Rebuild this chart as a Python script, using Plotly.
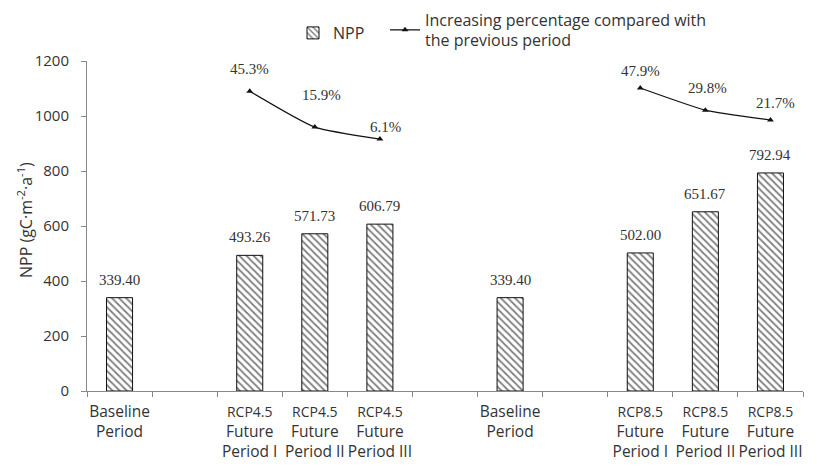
import plotly.graph_objects as go

# ---- data ----
tick_labels = [
    "Baseline<br>Period",
    "",
    "<span style='font-size:14px'>RCP4.5</span><br>Future<br>Period I",
    "<span style='font-size:14px'>RCP4.5</span><br>Future<br>Period II",
    "<span style='font-size:14px'>RCP4.5</span><br>Future<br>Period III",
    "",
    "Baseline<br>Period",
    "",
    "<span style='font-size:14px'>RCP8.5</span><br>Future<br>Period I",
    "<span style='font-size:14px'>RCP8.5</span><br>Future<br>Period II",
    "<span style='font-size:14px'>RCP8.5</span><br>Future<br>Period III",
]
npp_values = [339.40, None, 493.26, 571.73, 606.79, None, 339.40, None, 502.00, 651.67, 792.94]
pct_values = [None, None, 45.3, 15.9, 6.1, None, None, None, 47.9, 29.8, 21.7]
y_ticks = [0, 200, 400, 600, 800, 1000, 1200]
y_title = "NPP (gC·m<sup>-2</sup>·a<sup>-1</sup>)"

# ---- styles ----
pct_label_shift = [None, None, (0, 22), (7, 32), (6, 12), None, None, None, (0, 17), (2, 22), (5, 17)]
x = list(range(len(tick_labels)))
label_x = [xi for xi, t in zip(x, tick_labels) if t]
label_t = [t for t in tick_labels if t]
boundaries = [xi - 0.5 for xi in x] + [x[-1] + 0.5]
sans = "Open Sans"
serif = "Liberation Serif"
txt_col = "#333333"
axis_col = "#888888"

fig = go.Figure()
fig.add_trace(go.Bar(
    x=x, y=npp_values, name="NPP", width=0.4,
    marker=dict(color="white", line=dict(color="#111111", width=1),
                pattern=dict(shape="\\", fgcolor="#000000", bgcolor="white", size=5, solidity=0.35)),
    yaxis="y", legend="legend",
))
fig.add_trace(go.Scatter(
    x=x, y=pct_values, name="Increasing percentage compared with<br>the previous period",
    mode="lines+markers", line=dict(color="#111111", width=1.2, shape="spline", smoothing=0.5),
    marker=dict(symbol="triangle-up", size=6, color="#111111"),
    connectgaps=False, yaxis="y2", legend="legend2",
))

annotations = []
for xi, v in zip(x, npp_values):
    if v is None:
        continue
    annotations.append(dict(x=xi, y=v, xref="x", yref="y", text=f"{v:.2f}", showarrow=False,
                            yanchor="middle", yshift=18,
                            font=dict(family=serif, size=15, color=txt_col)))
for xi, p, s in zip(x, pct_values, pct_label_shift):
    if p is None:
        continue
    annotations.append(dict(x=xi, y=p, xref="x", yref="y2", text=f"{p:.1f}%", showarrow=False,
                            yanchor="middle", xshift=s[0], yshift=s[1],
                            font=dict(family=serif, size=15, color=txt_col)))
annotations.append(dict(x=(25 - 87) / 716, y=(391 - 220) / 330, xref="paper", yref="paper",
                        text=y_title, textangle=-90, showarrow=False,
                        xanchor="center", yanchor="middle",
                        font=dict(family=sans, size=16, color=txt_col)))

legend_font = dict(family=sans, size=16, color=txt_col)
fig.update_layout(
    width=817, height=466,
    margin=dict(l=87, r=14, t=61, b=75),
    paper_bgcolor="white", plot_bgcolor="white",
    font=dict(family=sans, size=15, color=txt_col),
    showlegend=True,
    legend=dict(orientation="h", xref="container", yref="container", x=293 / 817, xanchor="left",
                y=1 - 33 / 466, yanchor="middle", font=legend_font, bgcolor="rgba(0,0,0,0)"),
    legend2=dict(orientation="h", xref="container", yref="container", x=385 / 817, xanchor="left",
                 y=1 - 30 / 466, yanchor="middle", font=legend_font, bgcolor="rgba(0,0,0,0)"),
    xaxis=dict(range=[-0.5, len(x) - 0.5], tickmode="array", tickvals=label_x, ticktext=label_t,
               ticks="outside", ticklen=6, tickcolor="rgba(0,0,0,0)",
               minor=dict(tickmode="array", tickvals=boundaries, ticks="outside", ticklen=5,
                          tickcolor=axis_col, showgrid=False),
               showline=True, linecolor=axis_col, linewidth=1, showgrid=False, zeroline=False,
               tickangle=0, automargin=False,
               tickfont=dict(family=sans, size=15.5, color=txt_col)),
    yaxis=dict(range=[0, 1200], tickvals=y_ticks, ticks="outside", ticklen=5, tickcolor=axis_col,
               ticklabelstandoff=9,
               showline=True, linecolor=axis_col, linewidth=1, showgrid=False, zeroline=False,
               automargin=False,
               tickfont=dict(family=sans, size=15, color=txt_col)),
    yaxis2=dict(overlaying="y", range=[-200, 70], visible=False),
    annotations=annotations,
)

fig.write_html("out.html", config={"displayModeBar": False},
               post_script="document.body.style.margin='0';")
